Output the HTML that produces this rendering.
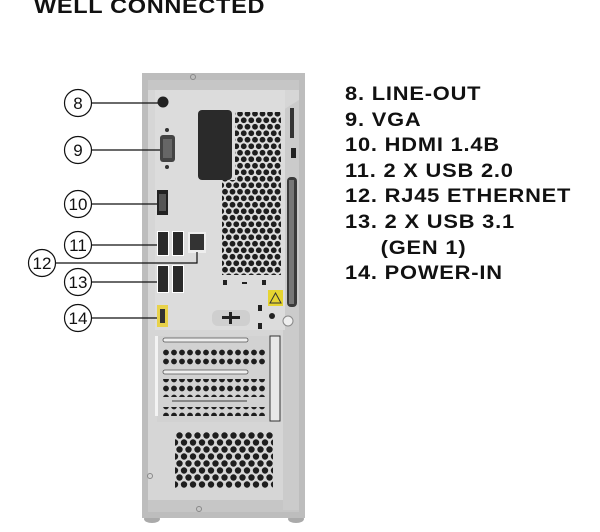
<!DOCTYPE html>
<html><head><meta charset="utf-8"><style>
html,body{margin:0;padding:0;background:#fff;}
body{width:600px;height:532px;overflow:hidden;position:relative;font-family:"Liberation Sans",sans-serif;}
.t{position:absolute;font-weight:bold;color:#111;white-space:nowrap;transform-origin:0 0;}
</style></head><body>
<div class="t" style="left:34px;top:-5px;font-size:21px;letter-spacing:0.6px;transform:scaleX(1.12);">WELL CONNECTED</div>
<div class="t" style="left:345px;top:82px;font-size:19px;line-height:25.6px;letter-spacing:0.7px;transform:scaleX(1.15);">
8. LINE-OUT<br>9. VGA<br>10. HDMI 1.4B<br>11. 2 X USB 2.0<br>12. RJ45 ETHERNET<br>13. 2 X USB 3.1<br><span style="padding-left:31px">(GEN 1)</span><br>14. POWER-IN</div>
<svg width="600" height="532" style="position:absolute;left:0;top:0" xmlns="http://www.w3.org/2000/svg">
<defs>
<pattern id="hx" width="7.5" height="13" patternUnits="userSpaceOnUse">
<circle cx="3.75" cy="3.25" r="2.9" fill="#1e1e1e"/><circle cx="0" cy="9.75" r="2.9" fill="#1e1e1e"/><circle cx="7.5" cy="9.75" r="2.9" fill="#1e1e1e"/></pattern>
<pattern id="hx2" width="9" height="14" patternUnits="userSpaceOnUse" x="175" y="432">
<circle cx="4.5" cy="3.5" r="3.2" fill="#1e1e1e"/><circle cx="0" cy="10.5" r="3.2" fill="#1e1e1e"/><circle cx="9" cy="10.5" r="3.2" fill="#1e1e1e"/></pattern>
<pattern id="hx3" width="8" height="9" patternUnits="userSpaceOnUse" x="162" y="348">
<circle cx="4" cy="4.5" r="2.9" fill="#1e1e1e"/></pattern>
</defs>
<ellipse cx="152" cy="519" rx="8" ry="4" fill="#aaa"/><ellipse cx="296" cy="519" rx="8" ry="4" fill="#aaa"/>
<rect x="142" y="73" width="163" height="445" fill="#bdbdbd"/>
<rect x="148" y="80" width="151" height="432" fill="#d6d6d6"/>
<rect x="148" y="80" width="151" height="10" fill="#c6c6c6"/>
<rect x="148" y="500" width="151" height="12" fill="#c6c6c6"/>
<polygon points="283,110 299,100 299,510 283,510" fill="#cbcbcb"/>
<rect x="155" y="90" width="130" height="240" fill="#dcdcdc"/>
<rect x="198" y="110" width="34" height="70" rx="4" fill="#2a2a2a"/>
<rect x="235" y="112" width="46" height="70" fill="url(#hx)"/>
<rect x="222" y="180" width="59" height="95" fill="url(#hx)"/>
<rect x="287" y="177" width="10" height="130" rx="4" fill="#3a3a3a"/>
<rect x="289" y="180" width="5" height="124" fill="#777"/>
<rect x="290" y="108" width="4" height="30" fill="#333"/>
<rect x="291" y="148" width="5" height="10" fill="#222"/>
<circle cx="163" cy="102" r="5.5" fill="#222"/>
<rect x="160" y="135" width="15" height="27" rx="3" fill="#444"/><rect x="163" y="139" width="9" height="19" fill="#666"/>
<circle cx="167" cy="130" r="2" fill="#333"/><circle cx="167" cy="167" r="2" fill="#333"/>
<rect x="157" y="190" width="11" height="25" fill="#222"/><rect x="159" y="194" width="7" height="17" fill="#555"/>
<rect x="157" y="231" width="12" height="25" fill="#fff"/><rect x="158" y="232" width="10" height="23" fill="#2a2a2a"/>
<rect x="172" y="231" width="12" height="25" fill="#fff"/><rect x="173" y="232" width="10" height="23" fill="#2a2a2a"/>
<rect x="188" y="232" width="18" height="21" fill="#eee"/><rect x="190" y="234" width="14" height="16" fill="#333"/>
<rect x="157" y="265" width="12" height="28" fill="#fff"/><rect x="158" y="266" width="10" height="26" fill="#2a2a2a"/>
<rect x="172" y="265" width="12" height="28" fill="#fff"/><rect x="173" y="266" width="10" height="26" fill="#2a2a2a"/>
<rect x="157" y="305" width="11" height="22" fill="#e8d24a"/><rect x="160" y="309" width="5" height="14" fill="#333"/>
<rect x="223" y="280" width="4" height="5" fill="#222"/><rect x="242" y="282" width="5" height="2" fill="#222"/><rect x="262" y="280" width="4" height="5" fill="#222"/>
<rect x="268" y="290" width="15" height="16" fill="#e6d431"/><polygon points="275.5,293 281,303 270,303" fill="none" stroke="#333" stroke-width="1"/>
<rect x="212" y="310" width="38" height="16" rx="6" fill="#cfcfcf"/><rect x="222" y="316" width="18" height="3" fill="#222"/><rect x="229" y="312" width="3" height="12" fill="#222"/>
<rect x="258" y="305" width="4" height="6" fill="#222"/><circle cx="272" cy="316" r="3" fill="#222"/><rect x="258" y="323" width="4" height="6" fill="#222"/>
<circle cx="288" cy="321" r="5" fill="#eee" stroke="#888"/>
<rect x="157" y="336" width="117" height="86" fill="#d2d2d2"/>
<rect x="155" y="336" width="3" height="80" fill="#f3f3f3"/>
<rect x="163" y="338" width="85" height="4" rx="2" fill="#eee" stroke="#555" stroke-width="0.8"/>
<rect x="163" y="370" width="85" height="4" rx="2" fill="#eee" stroke="#555" stroke-width="0.8"/>
<rect x="162" y="348" width="104" height="18" fill="url(#hx3)"/>
<rect x="162" y="379" width="104" height="18" fill="url(#hx3)"/>
<rect x="172" y="400" width="75" height="2" fill="#888"/>
<rect x="162" y="407" width="104" height="9" fill="url(#hx3)"/>
<rect x="270" y="336" width="10" height="85" fill="#e8e8e8" stroke="#333" stroke-width="1"/>
<rect x="175" y="432" width="98" height="56" fill="url(#hx2)"/>
<circle cx="150" cy="476" r="2.5" fill="none" stroke="#888"/><circle cx="199" cy="509" r="2.5" fill="none" stroke="#888"/><circle cx="193" cy="77" r="2.5" fill="none" stroke="#888"/>
<g fill="#fff" stroke="#111" stroke-width="1.2">
<circle cx="78" cy="103" r="13.5"/><circle cx="78" cy="150" r="13.5"/><circle cx="78" cy="204" r="13.5"/>
<circle cx="78" cy="245" r="13.5"/><circle cx="42" cy="263" r="13.5"/><circle cx="78" cy="282" r="13.5"/><circle cx="78" cy="318" r="13.5"/>
</g>
<g stroke="#111" stroke-width="1.2" fill="none">
<line x1="91.5" y1="103" x2="158" y2="103"/><line x1="91.5" y1="150" x2="160" y2="150"/>
<line x1="91.5" y1="204" x2="157" y2="204"/><line x1="91.5" y1="245" x2="157" y2="245"/>
<polyline points="55.5,263 197,263 197,252"/><line x1="91.5" y1="282" x2="157" y2="282"/>
<line x1="91.5" y1="318" x2="157" y2="318"/>
</g>
<g font-family="Liberation Sans, sans-serif" font-size="17" fill="#111" text-anchor="middle">
<text x="78" y="109">8</text><text x="78" y="156">9</text><text x="78" y="210">10</text><text x="78" y="251">11</text>
<text x="42" y="269">12</text><text x="78" y="288">13</text><text x="78" y="324">14</text>
</g>
</svg>
</body></html>
